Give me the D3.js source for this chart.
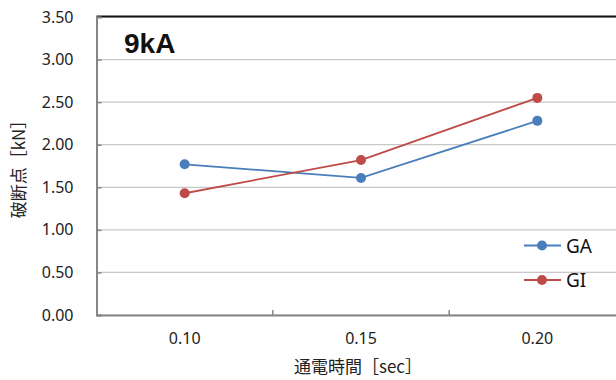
<!DOCTYPE html>
<html><head><meta charset="utf-8">
<script src="https://cdn.jsdelivr.net/npm/d3@7"></script>
<style>
html,body{margin:0;padding:0;background:#fff;}
svg{display:block;font-family:"Noto Sans","Noto Sans CJK JP",sans-serif;}
</style></head>
<body>
<svg id="c" width="616" height="380"></svg>
<script>
const categories = ["0.10", "0.15", "0.20"];
const seriesNames = ["GA", "GI"];
const gaValues = [1.77, 1.61, 2.28];
const giValues = [1.43, 1.82, 2.55];
const yTicks = [0, 0.5, 1.0, 1.5, 2.0, 2.5, 3.0, 3.5];
const colors = ["#4a7ebb", "#be4b48"];
const chartTitle = "9kA";
const yTitle = "破断点［kN］";
const xTitle = "通電時間［sec］";

(function () {
const svg = d3.select("#c");
const mLeft = 96.5, mRight = 625.5, mTop = 17, mBottom = 315;

const x = d3.scaleBand().domain(categories).range([mLeft, mRight]);
const y = d3.scaleLinear().domain([0, 3.5]).range([mBottom, mTop]);

// gridlines
svg.append("g").selectAll("line").data(yTicks).join("line")
  .attr("x1", mLeft).attr("x2", 616)
  .attr("y1", d => y(d)).attr("y2", d => y(d))
  .attr("stroke", "#c8c8c8").attr("stroke-width", 1.2);

// top border
svg.append("line").attr("x1", mLeft).attr("x2", 616).attr("y1", mTop - 0.5).attr("y2", mTop - 0.5)
  .attr("stroke", "#111").attr("stroke-width", 2);

// y axis
const yAxis = d3.axisLeft(y).tickValues(yTicks).tickFormat(d3.format(".2f")).tickSize(-5).tickPadding(23);
const gy = svg.append("g").attr("transform", `translate(${mLeft},0)`).call(yAxis);
gy.select(".domain").attr("stroke", "#868686").attr("stroke-width", 2);
gy.selectAll(".tick line").attr("stroke", "#868686").attr("stroke-width", 1.5);
gy.selectAll(".tick text").attr("font-size", 16).attr("fill", "#222")
  .attr("font-family", "'Noto Sans',sans-serif");

// x axis
const xAxis = d3.axisBottom(x).tickSize(0).tickPadding(18);
const gx = svg.append("g").attr("transform", `translate(0,${mBottom})`).call(xAxis);
gx.select(".domain").attr("stroke", "#868686").attr("stroke-width", 2);
gx.selectAll(".tick text").attr("font-size", 16).attr("fill", "#222")
  .attr("font-family", "'Noto Sans',sans-serif");
// category boundary ticks
gx.append("g").selectAll("line").data(categories.slice(1)).join("line")
  .attr("x1", d => x(d)).attr("x2", d => x(d)).attr("y1", 0).attr("y2", -5)
  .attr("stroke", "#868686").attr("stroke-width", 1.5);

// series
const allSeries = [gaValues, giValues];
const line = d3.line().x((d, i) => x(categories[i]) + x.bandwidth() / 2).y(d => y(d));
allSeries.forEach((vals, si) => {
  const g = svg.append("g");
  g.append("path").datum(vals).attr("d", line).attr("fill", "none")
    .attr("stroke", colors[si]).attr("stroke-width", 1.8);
  g.selectAll("circle").data(vals).join("circle")
    .attr("cx", (d, i) => x(categories[i]) + x.bandwidth() / 2).attr("cy", d => y(d))
    .attr("r", 5).attr("fill", colors[si]);
});

// title
svg.append("text").attr("x", 124).attr("y", 53).text(chartTitle)
  .attr("font-size", 28).attr("font-weight", "bold").attr("fill", "#111")
  .attr("font-family", "'Liberation Sans',Arial,sans-serif");

// axis titles
svg.append("text").attr("transform", "translate(25,165) rotate(-90)").attr("text-anchor", "middle")
  .attr("font-size", 17).attr("fill", "#222").attr("font-family", "'Noto Sans CJK JP',sans-serif").text(yTitle);
svg.append("text").attr("x", 358).attr("y", 373).attr("text-anchor", "middle")
  .attr("font-size", 17).attr("fill", "#222").attr("font-family", "'Noto Sans CJK JP',sans-serif").text(xTitle);

// legend
const lg = svg.append("g");
seriesNames.forEach((name, i) => {
  const yy = 245.5 + i * 34.5;
  lg.append("line").attr("x1", 524).attr("x2", 561).attr("y1", yy).attr("y2", yy)
    .attr("stroke", colors[i]).attr("stroke-width", 1.8);
  lg.append("circle").attr("cx", 542).attr("cy", yy).attr("r", 5).attr("fill", colors[i]);
  lg.append("text").attr("x", 566).attr("y", yy + 7).text(name)
    .attr("font-size", 19).attr("fill", "#111");
});
})();
</script>
</body></html>
